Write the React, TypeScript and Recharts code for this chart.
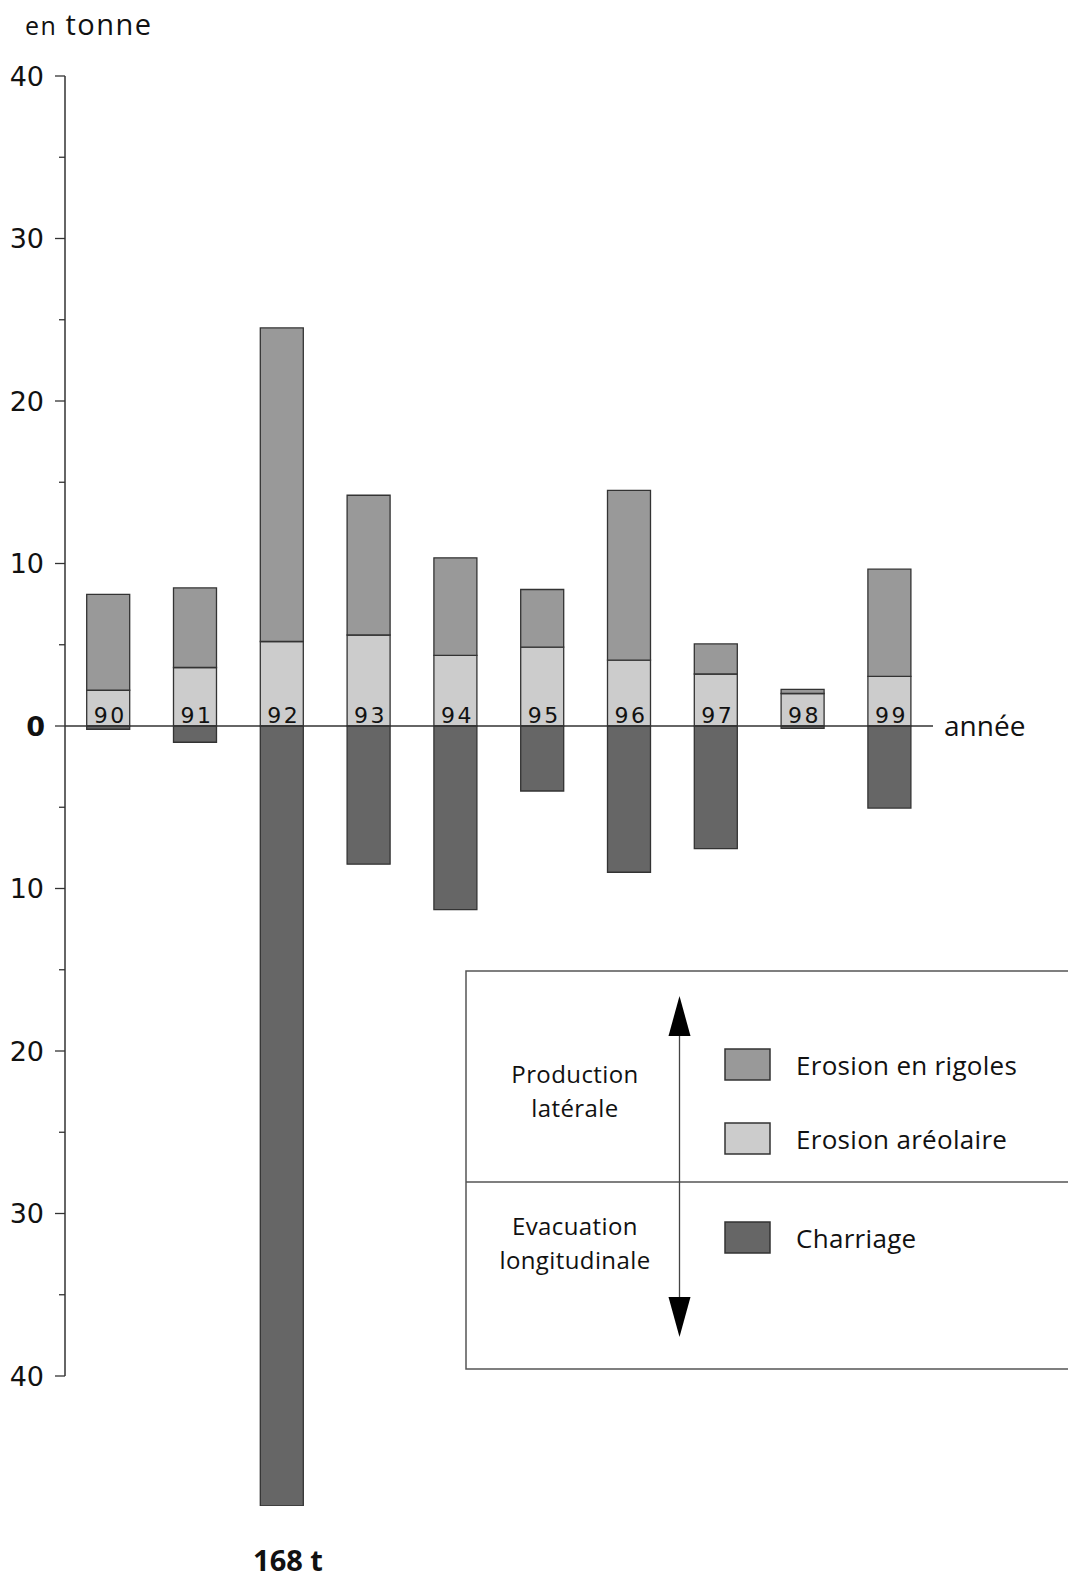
import React from 'react';
import { ComposedChart, Bar, XAxis, YAxis, ReferenceLine, LabelList } from 'recharts';

const years = ['90', '91', '92', '93', '94', '95', '96', '97', '98', '99'];
const rigoles = [5.9, 4.9, 19.3, 8.6, 6.0, 3.55, 10.45, 1.85, 0.25, 6.6];
const areolaire = [2.2, 3.6, 5.2, 5.6, 4.35, 4.85, 4.05, 3.2, 2.0, 3.05];
const charriage = [-0.2, -1.0, -168, -8.5, -11.3, -4.0, -9.0, -7.55, -0.15, -5.05];
const yTicks = [-40, -35, -30, -25, -20, -15, -10, -5, 0, 5, 10, 15, 20, 25, 30, 35, 40];
const Y_MIN = -48;
const Y_MAX = 40;

const seriesNames = {
  rigoles: 'Erosion en rigoles',
  areolaire: 'Erosion aréolaire',
  charriage: 'Charriage',
};
const colors = { rigoles: '#999999', areolaire: '#cccccc', charriage: '#666666' };
const groupTop = ['Production', 'latérale'];
const groupBottom = ['Evacuation', 'longitudinale'];

const data = years.map((y, i) => ({
  year: y,
  areolaire: areolaire[i],
  rigoles: rigoles[i],
  charriage: charriage[i],
}));

const STROKE = '#333333';
const SANS = '"Open Sans", "DejaVu Sans", sans-serif';
const NUM = '"DejaVu Sans", Verdana, sans-serif';

const YTick = (props: any) => {
  const { x, y, payload } = props;
  const v = payload.value as number;
  const major = v % 10 === 0;
  return (
    <g>
      <line x1={x - (major ? 10 : 6)} x2={x} y1={y} y2={y} stroke={STROKE} strokeWidth={1.3} />
      {major && (
        <text
          x={x - (v === 0 ? 20 : 21)}
          y={y}
          textAnchor="end"
          dominantBaseline="central"
          fontSize={27}
          fontWeight={v === 0 ? 'bold' : 'normal'}
          fontFamily={NUM}
          fill="#111"
        >
          {Math.abs(v)}
        </text>
      )}
    </g>
  );
};

const XTick = (props: any) => {
  const { x, y, payload } = props;
  const idx = years.indexOf(payload.value);
  const actual = charriage[idx];
  if (actual >= Y_MIN) return <g />;
  return (
    <text x={x + 6} y={y + 65} textAnchor="middle" fontSize={29} fontWeight="bold" fontFamily={SANS} fill="#111">
      {`${Math.abs(actual)} t`}
    </text>
  );
};

const YearLabel = (props: any) => {
  const { x, y, width, height, value } = props;
  return (
    <text
      x={x + width / 2 + 2}
      y={y + height - 3}
      textAnchor="middle"
      fontSize={22}
      letterSpacing={2.5}
      fontFamily={NUM}
      fill="#111"
    >
      {value}
    </text>
  );
};

const Swatch = ({ y, color, label }: { y: number; color: string; label: string }) => (
  <g>
    <rect x={725} y={y} width={45} height={31} fill={color} stroke={STROKE} strokeWidth={1.5} />
    <text x={796} y={y + 16} dominantBaseline="central" fontSize={26} letterSpacing={0.3} fontFamily={SANS} fill="#111">
      {label}
    </text>
  </g>
);

const GroupLabel = ({ y, text }: { y: number; text: string }) => (
  <text x={575} y={y} textAnchor="middle" dominantBaseline="central" fontSize={24} letterSpacing={0.4} fontFamily={SANS} fill="#111">
    {text}
  </text>
);

const Overlay = () => (
  <svg width={1068} height={1578} style={{ position: 'absolute', left: 0, top: 0, pointerEvents: 'none' }}>
    <text x={25} y={35} fontFamily={SANS} fill="#111" letterSpacing={1.5}>
      <tspan fontSize={25}>en </tspan>
      <tspan fontSize={29}>tonne</tspan>
    </text>
    <rect x={466} y={971} width={620} height={398} fill="#fff" stroke="#555" strokeWidth={1.5} />
    <line x1={466} x2={1090} y1={1182} y2={1182} stroke="#555" strokeWidth={1.5} />
    <line x1={679.5} x2={679.5} y1={1020} y2={1315} stroke="#444" strokeWidth={1.3} />
    <polygon points="679.5,996 668.5,1036 690.5,1036" fill="#000" />
    <polygon points="679.5,1337 668.5,1297 690.5,1297" fill="#000" />
    <GroupLabel y={1073} text={groupTop[0]} />
    <GroupLabel y={1107} text={groupTop[1]} />
    <GroupLabel y={1225} text={groupBottom[0]} />
    <GroupLabel y={1259} text={groupBottom[1]} />
    <Swatch y={1049} color={colors.rigoles} label={seriesNames.rigoles} />
    <Swatch y={1123} color={colors.areolaire} label={seriesNames.areolaire} />
    <Swatch y={1222} color={colors.charriage} label={seriesNames.charriage} />
  </svg>
);

export default function App() {
  return (
    <div style={{ position: 'relative', width: 1068, height: 1578, background: '#fff', overflow: 'hidden' }}>
      <style>{`body{margin:0;}`}</style>
      <ComposedChart
        width={1068}
        height={1578}
        data={data}
        stackOffset="sign"
        barCategoryGap="25%"
        margin={{ top: 76, right: 135, bottom: 0, left: 0 }}
      >
        <XAxis
          dataKey="year"
          height={72}
          axisLine={false}
          tickLine={false}
          tickSize={0}
          tickMargin={0}
          interval={0}
          tick={<XTick />}
        />
        <XAxis xAxisId="num" type="number" domain={[0, 10]} allowDataOverflow hide />
        <YAxis
          width={65}
          domain={[Y_MIN, Y_MAX]}
          allowDataOverflow
          ticks={yTicks}
          interval={0}
          axisLine={false}
          tickLine={false}
          tickSize={0}
          tickMargin={0}
          tick={<YTick />}
        />
        <Bar dataKey="areolaire" name={seriesNames.areolaire} stackId="s" fill={colors.areolaire} stroke={STROKE} strokeWidth={1.3} isAnimationActive={false}>
          <LabelList dataKey="year" content={<YearLabel />} />
        </Bar>
        <Bar dataKey="rigoles" name={seriesNames.rigoles} stackId="s" fill={colors.rigoles} stroke={STROKE} strokeWidth={1.3} isAnimationActive={false} />
        <Bar dataKey="charriage" name={seriesNames.charriage} stackId="s" fill={colors.charriage} stroke={STROKE} strokeWidth={1.3} isAnimationActive={false} />
        <ReferenceLine
          xAxisId="num"
          segment={[{ x: 0, y: Y_MAX }, { x: 0, y: -40 }]}
          stroke={STROKE}
          strokeWidth={1.5}
        />
        <ReferenceLine
          y={0}
          stroke={STROKE}
          strokeWidth={1.3}
          label={{ value: 'année', position: 'right', offset: 11, fontSize: 28, fontFamily: SANS, fill: '#111' }}
        />
      </ComposedChart>
      <Overlay />
    </div>
  );
}
